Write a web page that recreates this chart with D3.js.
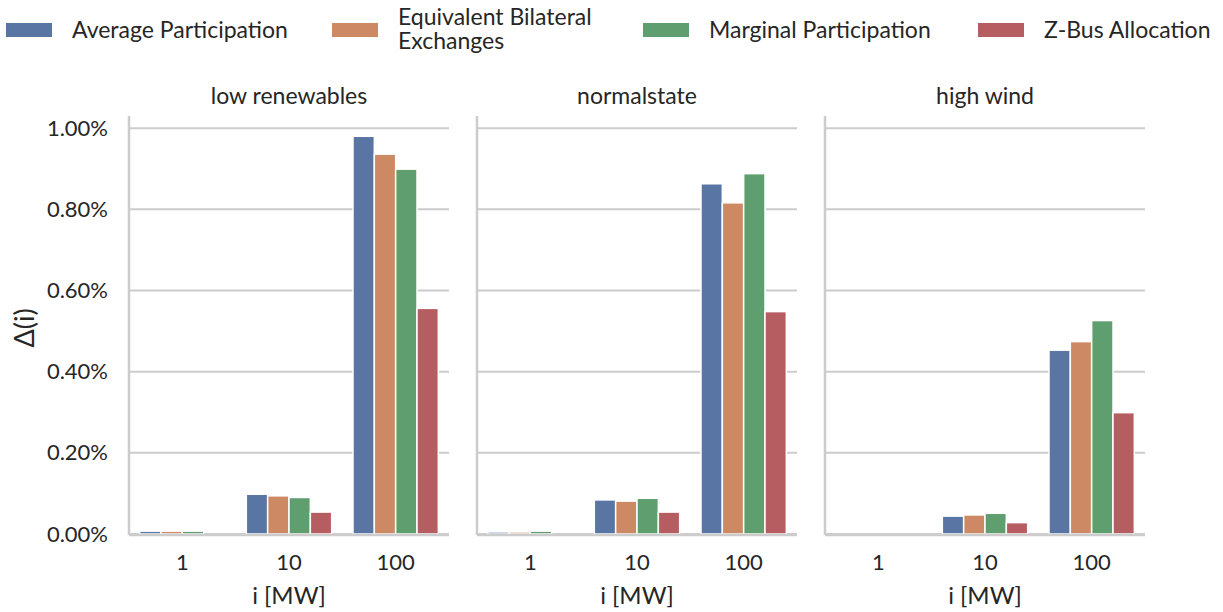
<!DOCTYPE html>
<html>
<head>
<meta charset="utf-8">
<script src="https://cdn.jsdelivr.net/npm/d3@7"></script>
<style>
  body { margin: 0; background: #fff; }
  text { font-family: "Lato", "DejaVu Sans", sans-serif; fill: #262626; }
</style>
</head>
<body>
<script>
//Panel names, categories and methods
var panels = ["low renewables", "normalstate", "high wind"];
var sizes = ["1", "10", "100"];
var methods = ["Average Participation", "Equivalent Bilateral Exchanges", "Marginal Participation", "Z-Bus Allocation"];
var colors = ["#5875a4", "#cc8963", "#5f9e6e", "#b55d60"];
var yTicks = [0, 0.2, 0.4, 0.6, 0.8, 1.0];

//Values in percent, one array per panel, [size][method]
var lowRenewables = [
    [0.007, 0.007, 0.007, 0],
    [0.098, 0.094, 0.090, 0.054],
    [0.980, 0.936, 0.899, 0.556]
];
var normalState = [
    [0.005, 0.005, 0.007, 0],
    [0.084, 0.081, 0.088, 0.054],
    [0.863, 0.816, 0.888, 0.548]
];
var highWind = [
    [0, 0, 0, 0],
    [0.044, 0.047, 0.051, 0.028],
    [0.453, 0.474, 0.526, 0.299]
];
var panelData = [lowRenewables, normalState, highWind];

var width = 1223, height = 612;
var plotTop = 116, plotBottom = 534;
var panelLeft = [129, 477, 825], panelWidth = 320;

const svg = d3.select("body").append("svg")
    .attr("width", width).attr("height", height);

//Shared y scale
var y = d3.scaleLinear().domain([0, 1.03]).range([plotBottom, plotTop]);

panelData.forEach(function(data, p) {
    var g = svg.append("g").attr("transform", `translate(${panelLeft[p]},0)`);

    var x = d3.scaleBand().domain(sizes).range([0, panelWidth]).paddingInner(0.2).paddingOuter(0.1);
    var xInner = d3.scaleBand().domain(methods).range([0, x.bandwidth()]);

    //Grid lines
    g.append("g").selectAll("line").data(yTicks).join("line")
        .attr("x1", 0).attr("x2", panelWidth)
        .attr("y1", d => y(d)).attr("y2", d => y(d))
        .attr("stroke", "#cccccc").attr("stroke-width", 2);

    //Bars
    sizes.forEach(function(s, i) {
        g.append("g").selectAll("rect").data(data[i]).join("rect")
            .attr("x", (d, j) => x(s) + xInner(methods[j]))
            .attr("width", xInner.bandwidth())
            .attr("y", d => y(d))
            .attr("height", d => plotBottom - y(d))
            .attr("fill", (d, j) => colors[j])
            .attr("stroke", "#ffffff").attr("stroke-width", 1.5);
    });

    //Spines
    g.append("line").attr("x1", 0).attr("x2", 0).attr("y1", plotTop).attr("y2", plotBottom + 1)
        .attr("stroke", "#cccccc").attr("stroke-width", 2.5);
    g.append("line").attr("x1", 0).attr("x2", panelWidth).attr("y1", plotBottom + 1).attr("y2", plotBottom + 1)
        .attr("stroke", "#cccccc").attr("stroke-width", 2.5);

    //X axis labels
    var xAxis = g.append("g").attr("transform", `translate(0,${plotBottom})`)
        .call(d3.axisBottom(x).tickSize(0).tickPadding(20));
    xAxis.select(".domain").remove();
    xAxis.selectAll("text").style("font-size", "22px").attr("fill", "#262626")
        .style("font-family", "Lato, DejaVu Sans, sans-serif");

    g.append("text").attr("x", panelWidth / 2).attr("y", 604)
        .attr("text-anchor", "middle").style("font-size", "24px").text("i [MW]");

    //Panel title
    g.append("text").attr("x", panelWidth / 2).attr("y", 104)
        .attr("text-anchor", "middle").style("font-size", "23px").text(panels[p]);

    //Y axis labels only on first panel
    if (p === 0) {
        var yAxis = g.append("g")
            .call(d3.axisLeft(y).tickValues(yTicks).tickSize(0).tickPadding(21)
                .tickFormat(d => d.toFixed(2) + "%"));
        yAxis.select(".domain").remove();
        yAxis.selectAll("text").style("font-size", "22px").attr("fill", "#262626")
            .style("font-family", "Lato, DejaVu Sans, sans-serif");
    }
});

//Y label
svg.append("text").attr("transform", "translate(34,328) rotate(-90)")
    .attr("text-anchor", "middle").style("font-size", "27px").text("\u0394(i)");

//Legend
var legendX = [6, 332, 643, 978];
var legend = svg.append("g").selectAll("g").data(methods).join("g")
    .attr("transform", (d, i) => `translate(${legendX[i]},23)`);
legend.append("rect").attr("width", 46).attr("height", 14)
    .attr("fill", (d, i) => colors[i]);
legend.each(function(d, i) {
    var t = d3.select(this).append("text").attr("x", 66).style("font-size", "23px");
    if (i === 1) {
        t.append("tspan").attr("x", 66).attr("y", 2).text("Equivalent Bilateral");
        t.append("tspan").attr("x", 66).attr("y", 26).text("Exchanges");
    } else {
        t.attr("y", 15).text(d);
    }
});
</script>
</body>
</html>
